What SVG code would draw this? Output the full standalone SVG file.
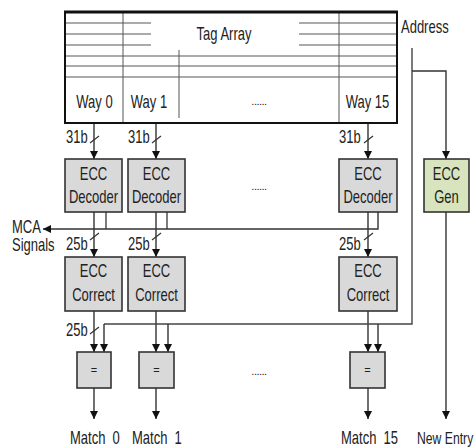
<svg xmlns="http://www.w3.org/2000/svg" width="475" height="447" viewBox="0 0 475 447">
<defs>
<marker id="ah" markerWidth="8" markerHeight="8" refX="8" refY="4" orient="auto" markerUnits="userSpaceOnUse">
<path d="M0,0 L8,4 L0,8 Z" fill="#111"/>
</marker>
<style>
text{font-family:"Liberation Sans",Arial,sans-serif;font-size:13px;fill:#222;}
.m{text-anchor:middle;}
.dots{font-size:11px;letter-spacing:-0.5px;}
.box{fill:#d9d9d9;stroke:#333;stroke-width:1.6;}
.gen{fill:#d7e4bd;stroke:#333;stroke-width:1.6;}
.ln{stroke:#444;stroke-width:1.4;fill:none;}
.tl{stroke:#aaa;stroke-width:2;}
.tv{stroke:#555;stroke-width:1;}
.ar{stroke:#333;stroke-width:1.4;fill:none;marker-end:url(#ah);}
.sl{stroke:#333;stroke-width:1.2;}
</style>
</defs>
<rect width="475" height="447" fill="#fff"/>

<g id="tag-array">
<line class="tl" x1="66" y1="23" x2="151" y2="23"/>
<line class="tl" x1="66" y1="34" x2="151" y2="34"/>
<line class="tl" x1="66" y1="45" x2="151" y2="45"/>
<line class="tl" x1="299" y1="23" x2="396" y2="23"/>
<line class="tl" x1="299" y1="34" x2="396" y2="34"/>
<line class="tl" x1="299" y1="45" x2="396" y2="45"/>
<line class="tl" x1="66" y1="56" x2="396" y2="56"/>
<line class="tl" x1="66" y1="66" x2="396" y2="66"/>
<line class="tl" x1="66" y1="77" x2="396" y2="77"/>
<line class="tv" x1="123" y1="13" x2="123" y2="123"/>
<line class="tv" x1="179" y1="50" x2="179" y2="118"/>
<line class="tv" x1="339" y1="13" x2="339" y2="123"/>
<path d="M65,123 L65,12 L397,12 L397,123 Z" fill="none" stroke="#111" stroke-width="2"/>
<line x1="64" y1="12" x2="398" y2="12" stroke="#111" stroke-width="3"/>
<text class="m" transform="translate(224,40) scale(1,1.35)">Tag Array</text>
<text class="m" transform="translate(94.5,108) scale(1,1.35)">Way 0</text>
<text class="m" transform="translate(149,108) scale(1,1.35)">Way 1</text>
<text class="m dots" x="259" y="105">......</text>
<text class="m" transform="translate(367.5,108) scale(1,1.35)">Way 15</text>
</g>

<g id="address-label">
<text transform="translate(401,33) scale(1,1.35)">Address</text>
</g>

<g id="connectors">
<line class="ar" x1="94" y1="124" x2="94" y2="159"/>
<line class="ar" x1="156" y1="124" x2="156" y2="159"/>
<line class="ar" x1="368" y1="124" x2="368" y2="159"/>
<line class="sl" x1="90" y1="143" x2="99" y2="136"/>
<line class="sl" x1="152" y1="143" x2="161" y2="136"/>
<line class="sl" x1="364" y1="143" x2="373" y2="136"/>
<line class="ar" x1="94" y1="212" x2="94" y2="257"/>
<line class="ar" x1="156" y1="212" x2="156" y2="257"/>
<line class="ar" x1="368" y1="212" x2="368" y2="257"/>
<line class="sl" x1="90" y1="240" x2="99" y2="233"/>
<line class="sl" x1="152" y1="240" x2="161" y2="233"/>
<line class="sl" x1="364" y1="240" x2="373" y2="233"/>
<line class="ln" x1="106" y1="212" x2="106" y2="229"/>
<line class="ln" x1="167" y1="212" x2="167" y2="229"/>
<path class="ar" d="M378,212 L378,229 L43,229"/>
<line class="ar" x1="94" y1="311" x2="94" y2="352"/>
<line class="ar" x1="156" y1="311" x2="156" y2="352"/>
<line class="ar" x1="368" y1="311" x2="368" y2="352"/>
<line class="sl" x1="90" y1="334" x2="99" y2="327"/>
<path class="ln" d="M412,48 L412,324 L104,324"/>
<line class="ar" x1="104" y1="324" x2="104" y2="352"/>
<line class="ar" x1="168" y1="324" x2="168" y2="352"/>
<line class="ar" x1="378" y1="324" x2="378" y2="352"/>
<path class="ar" d="M412,71 L446,71 L446,159"/>
<line class="ar" x1="446" y1="212" x2="446" y2="419"/>
<line class="ar" x1="94" y1="388" x2="94" y2="419"/>
<line class="ar" x1="156" y1="388" x2="156" y2="419"/>
<line class="ar" x1="368" y1="388" x2="368" y2="419"/>
</g>

<g id="bus-labels">
<text transform="translate(66,143) scale(1,1.35)">31b</text>
<text transform="translate(128,143) scale(1,1.35)">31b</text>
<text transform="translate(339,143) scale(1,1.35)">31b</text>
<text transform="translate(66,250) scale(1,1.35)">25b</text>
<text transform="translate(128,250) scale(1,1.35)">25b</text>
<text transform="translate(339,250) scale(1,1.35)">25b</text>
<text transform="translate(66,336) scale(1,1.35)">25b</text>
</g>

<g id="mca-label">
<text transform="translate(12,233) scale(1,1.35)">MCA</text>
<text transform="translate(12,251) scale(1,1.35)">Signals</text>
</g>

<g id="decoder-0">
<rect class="box" x="65" y="159" width="57" height="53"/>
<text class="m" transform="translate(93.5,180) scale(1,1.35)">ECC</text>
<text class="m" transform="translate(93.5,203) scale(1,1.35)">Decoder</text>
</g>
<g id="decoder-1">
<rect class="box" x="128" y="159" width="57" height="53"/>
<text class="m" transform="translate(156.5,180) scale(1,1.35)">ECC</text>
<text class="m" transform="translate(156.5,203) scale(1,1.35)">Decoder</text>
</g>
<g id="decoder-dots">
<text class="m dots" x="259" y="190">......</text>
</g>
<g id="decoder-15">
<rect class="box" x="339" y="159" width="58" height="53"/>
<text class="m" transform="translate(368,180) scale(1,1.35)">ECC</text>
<text class="m" transform="translate(368,203) scale(1,1.35)">Decoder</text>
</g>
<g id="ecc-gen">
<rect class="gen" x="424" y="159" width="45" height="53"/>
<text class="m" transform="translate(446.5,180) scale(1,1.35)">ECC</text>
<text class="m" transform="translate(446.5,203) scale(1,1.35)">Gen</text>
</g>

<g id="correct-0">
<rect class="box" x="65" y="257" width="57" height="54"/>
<text class="m" transform="translate(93.5,277) scale(1,1.35)">ECC</text>
<text class="m" transform="translate(93.5,301) scale(1,1.35)">Correct</text>
</g>
<g id="correct-1">
<rect class="box" x="128" y="257" width="57" height="54"/>
<text class="m" transform="translate(156.5,277) scale(1,1.35)">ECC</text>
<text class="m" transform="translate(156.5,301) scale(1,1.35)">Correct</text>
</g>
<g id="correct-15">
<rect class="box" x="339" y="257" width="58" height="54"/>
<text class="m" transform="translate(368,277) scale(1,1.35)">ECC</text>
<text class="m" transform="translate(368,301) scale(1,1.35)">Correct</text>
</g>

<g id="compare-0">
<rect class="box" x="77" y="352" width="34" height="36"/>
<text class="m" x="94" y="374" style="font-size:11px">=</text>
</g>
<g id="compare-1">
<rect class="box" x="139" y="352" width="35" height="36"/>
<text class="m" x="156.5" y="374" style="font-size:11px">=</text>
</g>
<g id="compare-dots">
<text class="m dots" x="259" y="375">......</text>
</g>
<g id="compare-15">
<rect class="box" x="350" y="352" width="35" height="36"/>
<text class="m" x="367.5" y="374" style="font-size:11px">=</text>
</g>

<g id="outputs">
<text transform="translate(70,444) scale(1,1.35)" xml:space="preserve">Match  0</text>
<text transform="translate(132,444) scale(1,1.35)" xml:space="preserve">Match  1</text>
<text transform="translate(341,444) scale(1,1.35)" xml:space="preserve">Match  15</text>
<text transform="translate(417,444) scale(1,1.35)" style="font-size:12.2px">New Entry</text>
</g>
</svg>
